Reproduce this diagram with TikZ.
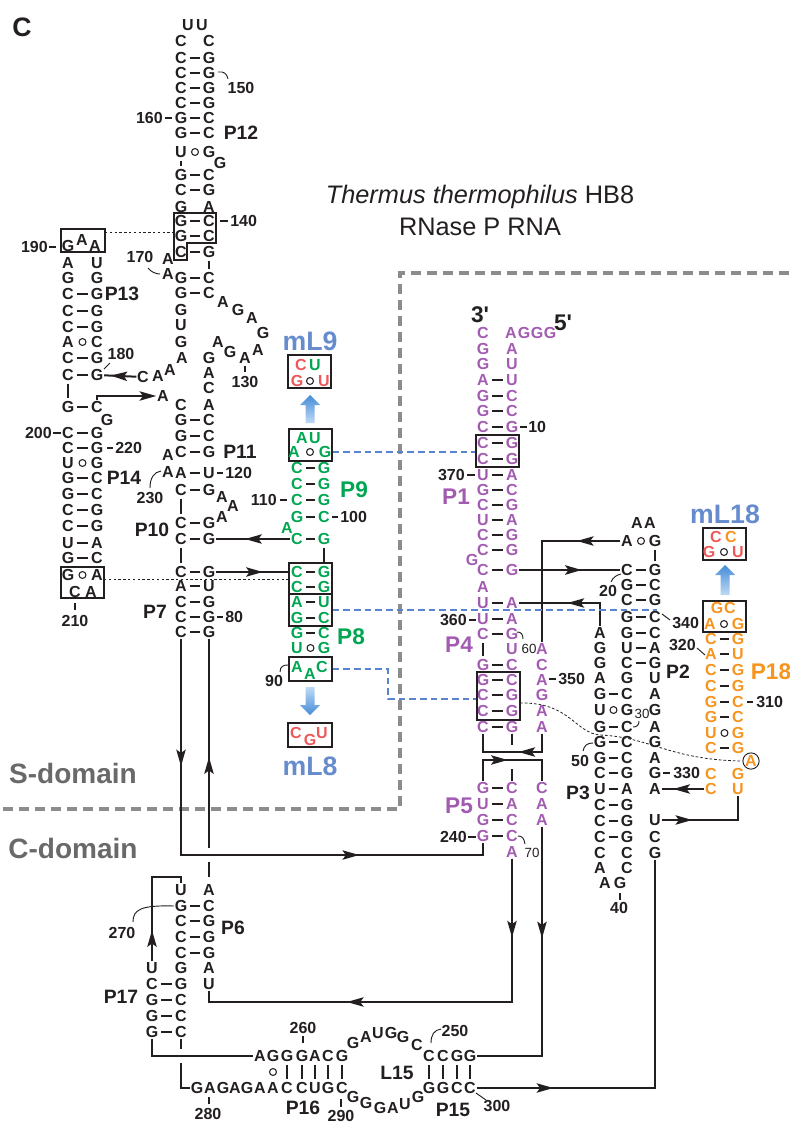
\documentclass[tikz,border=0pt]{standalone}
\usepackage{fontspec}
\setmainfont{Liberation Sans}
\usetikzlibrary{arrows.meta,decorations.markings,calc,fit}
\definecolor{pur}{RGB}{163,91,178}
\definecolor{grn}{RGB}{0,166,81}
\definecolor{org}{RGB}{247,148,30}
\definecolor{mred}{RGB}{238,88,88}
\definecolor{mblue}{RGB}{102,140,205}
\definecolor{dblue}{RGB}{91,132,207}
\definecolor{frm}{RGB}{140,140,140}
\definecolor{dom}{RGB}{105,105,105}
\definecolor{ink}{RGB}{35,31,32}
\definecolor{shA}{RGB}{70,140,215}
\definecolor{shB}{RGB}{190,218,244}
\tikzset{
 nt/.style={font=\fontsize{12}{12}\selectfont\bfseries, inner sep=0.5pt, text height=8.6pt, text depth=0pt},
 bond/.style={line width=2pt, shorten <=1.5pt, shorten >=1.5pt, draw=ink},
 wob/.style={circle, draw=ink, line width=0.8pt, minimum size=5.2pt, inner sep=0pt},
 conn/.style={line width=1.5pt, draw=ink},
 arr/.style={postaction={decorate}, decoration={markings, mark=at position #1 with {\arrow{Stealth[length=12.5pt,width=7pt,inset=2.5pt]}}}},
 endarr/.style={-{Stealth[length=12.5pt,width=7pt,inset=2.5pt]}},
 num/.style={font=\fontsize{12}{12}\selectfont\bfseries, text=ink, inner sep=0pt},
 snum/.style={font=\fontsize{10}{10}\selectfont, text=ink, inner sep=0pt},
 stem/.style={font=\fontsize{14.5}{15}\selectfont\bfseries, text=ink, inner sep=0pt},
 cstem/.style={font=\fontsize{17}{17}\selectfont\bfseries, inner sep=0pt},
 mlab/.style={font=\fontsize{20}{20}\selectfont\bfseries, text=mblue, inner sep=0pt},
 dlab/.style={font=\fontsize{21}{21}\selectfont\bfseries, text=dom, inner sep=0pt},
 box/.style={draw=ink, line width=1pt, inner sep=0pt},
 dotl/.style={draw=ink, line width=0.7pt, dash pattern=on 1.8pt off 1.8pt},
 bdash/.style={draw=dblue, line width=1.7pt, dash pattern=on 5pt off 3pt},
 gframe/.style={draw=frm, line width=2.4pt, dash pattern=on 7.5pt off 4.5pt},
 cdash/.style={draw=ink, line width=0.6pt, dash pattern=on 2pt off 1.5pt},
 tick/.style={draw=ink, line width=1.3pt},
 hook/.style={draw=ink, line width=0.7pt},
}
\newcommand{\nuc}[5][ink]{\node[nt,text=#1] (#2) at (#3,#4) {#5};}
\newcommand{\bpr}[7][ink]{\node[nt,text=#1] (#2a) at (#3,#5) {#6};\node[nt,text=#1] (#2b) at (#4,#5) {#7};\draw[bond] (#2a) -- (#2b);}
\newcommand{\wbl}[7][ink]{\node[nt,text=#1] (#2a) at (#3,#5) {#6};\node[nt,text=#1] (#2b) at (#4,#5) {#7};\node[wob] (#2o) at ($(#2a)!0.5!(#2b)$) {};}
\newcommand{\npr}[7][ink]{\node[nt,text=#1] (#2a) at (#3,#5) {#6};\node[nt,text=#1] (#2b) at (#4,#5) {#7};}
\newcommand{\lbl}[5][num]{\node[#1] (#2) at (#3,#4) {#5};}
\begin{document}
\begin{tikzpicture}[x=0.75pt,y=-0.75pt]
\useasboundingbox (0,0) rectangle (789,1124);
% ---------- frame, titles ----------
\coordinate (f1) at (789,273); \coordinate (f2) at (400,273); \coordinate (f3) at (400,809); \coordinate (f4) at (0,809);
\draw[gframe] (f1) -- (f2) -- (f3) -- (f4);
\node[font=\fontsize{20}{20}\selectfont\bfseries, text=ink] (panel) at (22,27) {C};
\node[font=\fontsize{19}{19}\selectfont, text=ink] (title1) at (480,197) {\textit{Thermus thermophilus} HB8};
\node[font=\fontsize{19}{19}\selectfont, text=ink] (title2) at (480,227) {RNase P RNA};
\node[dlab] (sdom) at (73,773) {S-domain};
\node[dlab] (cdom) at (73,848) {C-domain};
% ---------- P12 / P11 / P10 / P7 ----------
\nuc{pu1}{188}{25}{U}
\nuc{pu2}{202}{25}{U}
\npr{r41}{181}{209}{41}{C}{C}
\bpr{r58}{181}{209}{58}{C}{G}
\bpr{r73}{181}{209}{73}{C}{G}
\bpr{r88}{181}{209}{88}{C}{G}
\bpr{r103}{181}{209}{103}{C}{G}
\bpr{r118}{181}{209}{118}{G}{C}
\bpr{r133}{181}{209}{133}{G}{C}
\wbl{r152}{181}{209}{152}{U}{G}
\nuc{g163}{220}{163}{G}
\bpr{r175}{181}{209}{175}{G}{C}
\draw[bond] (r152a) -- (r175a);
\bpr{r190}{181}{209}{190}{C}{G}
\npr{r207}{181}{209}{207}{G}{A}
\bpr{r221}{181}{209}{221}{G}{C}
\bpr{r236}{181}{209}{236}{G}{C}
\bpr{r252}{181}{209}{252}{C}{G}
\nuc{a260}{168}{259}{A}
\nuc{a273}{168}{274}{A}
\bpr{r278}{181}{209}{278}{G}{C}
\draw[bond] (r252b) -- (r278b);
\bpr{r293}{181}{209}{293}{G}{C}
\draw[box] (174,213) -- (216,213) -- (216,243) -- (187,243) -- (187,260) -- (174,260) -- cycle;
\coordinate (b140w) at (174,232);
\nuc{r310}{181}{310}{G}
\nuc{r325}{181}{325}{U}
\nuc{r342}{181}{342}{G}
\nuc{r358}{182}{358}{A}
\nuc{la1}{170}{370}{A}
\nuc{la2}{158}{376}{A}
\nuc{lc1}{143}{377}{C}
\nuc{lp1}{223}{302}{A}
\nuc{lp2}{238}{310}{G}
\nuc{lp3}{252}{318}{A}
\nuc{lp4}{263}{333}{G}
\nuc{lp5}{258}{350}{A}
\nuc{lp6}{245}{358}{A}
\nuc{lp7}{230}{352}{G}
\nuc{lp8}{218}{342}{A}
\nuc{rr358}{209}{358}{G}
\nuc{rr373}{209}{373}{A}
\nuc{rr388}{209}{388}{C}
\nuc{rr405}{209}{405}{A}
\nuc{la397}{163}{396}{A}
\nuc{lc405}{181}{405}{C}
\bpr{r420}{181}{209}{420}{G}{C}
\bpr{r436}{181}{209}{436}{G}{C}
\bpr{r452}{181}{209}{452}{C}{G}
\nuc{a455}{168}{455}{A}
\nuc{a472}{168}{472}{A}
\bpr{r473}{181}{209}{473}{A}{U}
\bpr{r490}{181}{209}{490}{C}{G}
\nuc{b497}{222}{497}{A}
\nuc{b506}{233}{506}{A}
\nuc{b517}{222}{517}{A}
\bpr{r523}{181}{209}{523}{C}{G}
\draw[bond] (r490a) -- (r523a);
\bpr{r539}{181}{209}{539}{C}{G}
\bpr{r572}{181}{209}{572}{C}{G}
\draw[bond] (r539a) -- (r572a);
\bpr{r586}{181}{209}{586}{A}{U}
\bpr{r602}{181}{209}{602}{C}{G}
\bpr{r617}{181}{209}{617}{C}{G}
\bpr{r632}{181}{209}{632}{C}{G}
% ---------- P13 / P14 ----------
\nuc{q246a}{68}{246}{G}
\nuc{q240}{82}{240}{A}
\nuc{q246b}{95}{246}{A}
\node[box, fit={(61,229) (105,252)}] (bxGAA) {};
\npr{q263}{68}{97}{263}{A}{U}
\npr{q278}{68}{97}{278}{G}{G}
\bpr{q294}{68}{97}{294}{C}{G}
\bpr{q311}{68}{97}{311}{C}{G}
\bpr{q327}{68}{97}{327}{C}{G}
\wbl{q342}{68}{97}{342}{A}{C}
\bpr{q358}{68}{97}{358}{C}{G}
\bpr{q375}{68}{97}{375}{C}{G}
\bpr{q408}{68}{97}{407}{G}{C}
\draw[bond] (q375a) -- (q408a);
\nuc{q422}{107}{420}{G}
\bpr{q433}{68}{97}{433}{C}{G}
\bpr{q447}{68}{97}{448}{C}{G}
\wbl{q463}{68}{97}{463}{U}{G}
\bpr{q478}{68}{97}{478}{G}{C}
\bpr{q494}{68}{97}{494}{G}{C}
\bpr{q510}{68}{97}{510}{C}{G}
\bpr{q526}{68}{97}{526}{C}{G}
\bpr{q543}{68}{97}{543}{U}{A}
\bpr{q558}{68}{97}{558}{G}{C}
\wbl{q575}{68}{97}{575}{G}{A}
\nuc{q592a}{75}{592}{C}
\nuc{q592b}{91}{592}{A}
\node[box, fit={(61,567) (104,598)}] (bxGA) {};
\draw[conn, arr=0.8] (lc1) -- (q375b);
\coordinate (k2) at (97,396);
\draw[conn, endarr] (q408b.north) -- (k2) -- (la397.west);
% ---------- P9 / P8 (green) ----------
\node[mlab] (mL9) at (310,341) {mL9};
\node[box, fit={(288,355) (331,388)}] (bxm9) {};
\nuc[mred]{m9c}{301}{365}{C}
\nuc[grn]{m9u}{315}{365}{U}
\nuc[mred]{m9g}{297}{381}{G}
\node[wob] (m9o) at (310,381) {};
\nuc[mred]{m9u2}{324}{381}{U}
\shade[top color=shA, bottom color=shB] (305.5,423) -- (305.5,405) -- (300,405) -- (310,395) -- (320,405) -- (314.5,405) -- (314.5,423) -- cycle;
\node[box, fit={(289,429) (332,461)}] (bxp9) {};
\nuc[grn]{p9a1}{302}{438}{A}
\nuc[grn]{p9u1}{315}{438}{U}
\nuc[grn]{p9a2}{294}{452}{A}
\node[wob] (p9o) at (310,452) {};
\nuc[grn]{p9g2}{325}{452}{G}
\bpr[grn]{s468}{297}{324}{468}{C}{G}
\bpr[grn]{s484}{297}{324}{484}{C}{G}
\bpr[grn]{s500}{297}{324}{500}{C}{G}
\bpr[grn]{s517}{297}{324}{517}{G}{C}
\nuc[grn]{s528}{287}{528}{A}
\bpr[grn]{s539}{297}{324}{539}{C}{G}
\bpr[grn]{s572}{297}{324}{572}{C}{G}
\draw[bond] (s539b) -- (s572b);
\bpr[grn]{s587}{297}{324}{587}{C}{G}
\node[box, fit={(289,563) (332,594)}] (bx8a) {};
\bpr[grn]{s602}{297}{324}{602}{A}{U}
\bpr[grn]{s618}{297}{324}{618}{G}{C}
\node[box, fit={(289,594) (332,626)}] (bx8b) {};
\bpr[grn]{s633}{297}{324}{633}{G}{C}
\wbl[grn]{s648}{297}{324}{648}{U}{G}
\nuc[grn]{s667a}{297}{667}{A}
\nuc[grn]{s674}{310}{674}{A}
\nuc[grn]{s667b}{322}{667}{C}
\node[box, fit={(289,657) (332,681)}] (bx8c) {};
\shade[top color=shB, bottom color=shA] (305.5,687) -- (305.5,705) -- (300,705) -- (310,715) -- (320,705) -- (314.5,705) -- (314.5,687) -- cycle;
\node[box, fit={(288,723) (332,747)}] (bxm8) {};
\nuc[mred]{m8c}{296}{733}{C}
\nuc[mred]{m8g}{310}{740}{G}
\nuc[mred]{m8u}{322}{733}{U}
\node[mlab] (mL8) at (310,766) {mL8};
\draw[conn, arr=0.61] (s539a) -- (r539b);
\draw[conn, arr=0.63] (r572b) -- (s572a);
% ---------- P1 / P4 / P5 (purple) ----------
\node[font=\fontsize{17}{17}\selectfont\bfseries, text=ink] (p3p) at (480,315) {3\textquotesingle};
\node[font=\fontsize{17}{17}\selectfont\bfseries, text=ink] (p5p) at (563,323) {5\textquotesingle};
\nuc[pur]{t333}{483}{333}{C}
\nuc[pur]{f1a}{511}{333}{A}
\nuc[pur]{f1b}{524}{333}{G}
\nuc[pur]{f1c}{537}{333}{G}
\nuc[pur]{f1d}{550}{333}{G}
\npr[pur]{t349}{483}{512}{349}{G}{A}
\npr[pur]{t364}{483}{512}{364}{G}{U}
\bpr[pur]{t380}{483}{512}{380}{A}{U}
\bpr[pur]{t396}{483}{512}{396}{G}{C}
\bpr[pur]{t411}{483}{512}{411}{G}{C}
\bpr[pur]{t427}{483}{512}{427}{C}{G}
\bpr[pur]{t443}{483}{512}{443}{C}{G}
\bpr[pur]{t459}{483}{512}{459}{C}{G}
\node[box, fit={(476,435) (519,467)}] (bxP1) {};
\bpr[pur]{t475}{483}{512}{475}{U}{A}
\bpr[pur]{t490}{483}{512}{490}{G}{C}
\bpr[pur]{t505}{483}{512}{505}{C}{G}
\bpr[pur]{t520}{483}{512}{520}{U}{A}
\bpr[pur]{t535}{483}{512}{535}{C}{G}
\bpr[pur]{t550}{483}{512}{550}{C}{G}
\nuc[pur]{t560}{472}{560}{G}
\bpr[pur]{t570}{483}{512}{570}{C}{G}
\nuc[pur]{t587}{483}{587}{A}
\bpr[pur]{t603}{483}{512}{603}{U}{A}
\bpr[pur]{t620}{483}{512}{619}{U}{A}
\bpr[pur]{t633}{483}{512}{634}{C}{G}
\nuc[pur]{t648}{512}{649}{U}
\bpr[pur]{t665}{483}{512}{665}{G}{C}
\draw[bond] (t633a) -- (t665a);
\bpr[pur]{t679}{483}{512}{680}{G}{C}
\bpr[pur]{t695}{483}{512}{695}{C}{G}
\bpr[pur]{t712}{483}{512}{711}{C}{G}
\node[box, fit={(477,672) (520,720)}] (bxP4) {};
\bpr[pur]{t727}{483}{512}{727}{C}{G}
\nuc[pur]{u648}{542}{649}{A}
\nuc[pur]{u665}{542}{665}{C}
\nuc[pur]{u679}{542}{680}{A}
\nuc[pur]{u695}{542}{695}{G}
\nuc[pur]{u712}{542}{711}{A}
\nuc[pur]{u727}{542}{727}{A}
\bpr[pur]{t788}{483}{512}{788}{G}{C}
\bpr[pur]{t803}{483}{512}{804}{U}{A}
\bpr[pur]{t820}{483}{512}{820}{G}{C}
\bpr[pur]{t837}{483}{512}{836}{G}{C}
\nuc[pur]{u788}{542}{788}{C}
\nuc[pur]{u803}{542}{804}{A}
\nuc[pur]{u820}{542}{820}{A}
\nuc[pur]{t853}{512}{852}{A}
\coordinate (k19a) at (542,752); \coordinate (k19b) at (483,752);
\draw[conn] (u727.south) -- (k19a) -- (k19b) -- (t727a.south);
\draw[conn, arr=0.4] (k19a) -- (k19b);
\draw[conn] (t727b.south) -- ++(0,11);
\coordinate (k19c) at (483,760); \coordinate (k19d) at (542,760);
\draw[conn] (t788a.north) -- (k19c) -- (k19d) -- (u788.north);
\draw[conn, arr=0.42] (k19c) -- (k19d);
\draw[conn] (t788b.north) -- ++(0,-12);
% ---------- P2 / P3 ----------
\nuc{v523a}{637}{523}{A}
\nuc{v523b}{650}{523}{A}
\wbl{v541}{627}{655}{541}{A}{G}
\bpr{v570}{627}{655}{570}{C}{G}
\draw[bond] (v541b) -- (v570b);
\bpr{v585}{627}{655}{585}{G}{C}
\bpr{v600}{627}{655}{600}{C}{G}
\bpr{v617}{627}{655}{617}{G}{C}
\bpr{v633}{627}{655}{633}{G}{C}
\bpr{v648}{627}{655}{648}{U}{A}
\bpr{v663}{627}{655}{663}{C}{G}
\npr{v678}{627}{655}{678}{G}{U}
\nuc{w633}{600}{633}{A}
\nuc{w648}{600}{648}{G}
\nuc{w663}{600}{663}{G}
\nuc{w678}{600}{678}{A}
\bpr{w694}{600}{627}{694}{G}{C}
\wbl{w710}{600}{627}{710}{U}{G}
\bpr{w727}{600}{627}{727}{G}{C}
\bpr{w742}{600}{627}{742}{G}{C}
\bpr{w758}{600}{627}{758}{G}{C}
\bpr{w773}{600}{627}{773}{C}{G}
\bpr{w789}{600}{627}{789}{U}{A}
\bpr{w805}{600}{627}{805}{C}{G}
\bpr{w821}{600}{627}{821}{C}{G}
\bpr{w837}{600}{627}{837}{C}{G}
\npr{w853}{600}{627}{853}{C}{C}
\npr{w868}{600}{627}{868}{A}{C}
\nuc{w883a}{605}{883}{A}
\nuc{w883b}{620}{883}{G}
\nuc{z694}{655}{694}{A}
\nuc{z710}{655}{710}{G}
\nuc{z727}{655}{727}{A}
\nuc{z742}{655}{742}{G}
\nuc{z758}{655}{758}{A}
\nuc{z773}{655}{773}{G}
\nuc{w789c}{655}{789}{A}
\nuc{z820}{655}{820}{U}
\nuc{z837}{655}{837}{C}
\nuc{z853}{655}{853}{G}
% ---------- P18 (orange) ----------
\node[mlab] (mL18) at (725,514) {mL18};
\node[box, fit={(703,528) (746,560)}] (bxm18) {};
\nuc[mred]{m18c1}{716}{537}{C}
\nuc[org]{m18c2}{731}{537}{C}
\nuc[mred]{m18g}{709}{552}{G}
\node[wob] (m18o) at (724,552) {};
\nuc[mred]{m18u}{738}{552}{U}
\shade[top color=shA, bottom color=shB] (720.5,595) -- (720.5,575) -- (715,575) -- (725,565) -- (735,575) -- (729.5,575) -- (729.5,595) -- cycle;
\node[box, fit={(703,601) (746,632)}] (bxP18) {};
\nuc[org]{o608a}{717}{608}{G}
\nuc[org]{o608b}{730}{608}{C}
\nuc[org]{o624a}{710}{624}{A}
\node[wob] (o624o) at (724,624) {};
\nuc[org]{o624b}{738}{624}{G}
\bpr[org]{o639}{711}{738}{639}{C}{G}
\bpr[org]{o653}{711}{738}{654}{A}{U}
\bpr[org]{o670}{711}{738}{670}{C}{G}
\bpr[org]{o687}{711}{738}{686}{C}{G}
\bpr[org]{o702}{711}{738}{702}{G}{C}
\bpr[org]{o717}{711}{738}{717}{G}{C}
\wbl[org]{o733}{711}{738}{733}{U}{G}
\bpr[org]{o748}{711}{738}{748}{C}{G}
\node[nt, text=org, circle, draw=ink, line width=0.7pt, minimum size=12pt, inner sep=0pt] (oA) at (751,761) {A};
\npr[org]{o773}{711}{738}{774}{C}{G}
\npr[org]{o789}{711}{738}{789}{C}{U}
% ---------- P6 / P17 ----------
\npr{x890}{181}{209}{890}{U}{A}
\bpr{x906}{181}{209}{906}{G}{C}
\bpr{x921}{181}{209}{921}{C}{G}
\bpr{x937}{181}{209}{937}{C}{G}
\bpr{x953}{181}{209}{953}{C}{G}
\npr{x968}{181}{209}{968}{G}{A}
\nuc{x968u}{152}{968}{U}
\bpr{y984}{152}{181}{984}{C}{G}
\nuc{x984}{209}{984}{U}
\bpr{y1001}{152}{181}{1000}{G}{C}
\bpr{y1016}{152}{181}{1016}{G}{C}
\bpr{y1032}{152}{181}{1032}{G}{C}
% ---------- P16 / L15 / P15 ----------
\nuc{bt260}{260}{1056}{A}
\nuc{bt273}{273}{1056}{G}
\nuc{bt287}{287}{1056}{G}
\nuc{bt302}{302}{1056}{G}
\nuc{bt315}{315}{1056}{A}
\nuc{bt328}{328}{1056}{C}
\nuc{bt342}{342}{1056}{G}
\nuc{bt353}{353}{1043}{G}
\nuc{bt366}{366}{1037}{A}
\nuc{bt378}{378}{1033}{U}
\nuc{bt391}{391}{1033}{G}
\nuc{bt403}{403}{1037}{G}
\nuc{bt417}{417}{1045}{C}
\nuc{bt429}{429}{1056}{C}
\nuc{bt443}{443}{1056}{C}
\nuc{bt457}{457}{1056}{G}
\nuc{bt470}{470}{1056}{G}
\nuc{bb197}{197}{1088}{G}
\nuc{bb210}{210}{1088}{A}
\nuc{bb223}{223}{1088}{G}
\nuc{bb235}{235}{1088}{A}
\nuc{bb247}{247}{1088}{G}
\nuc{bb260}{260}{1088}{A}
\nuc{bb273}{273}{1088}{A}
\nuc{bb287}{287}{1088}{C}
\nuc{bb302}{302}{1088}{C}
\nuc{bb315}{315}{1088}{U}
\nuc{bb328}{328}{1088}{G}
\nuc{bb342}{342}{1088}{C}
\nuc{bb353}{353}{1097}{G}
\nuc{bb366}{366}{1103}{G}
\nuc{bb380}{380}{1108}{G}
\nuc{bb393}{393}{1108}{A}
\nuc{bb405}{405}{1104}{U}
\nuc{bb418}{418}{1097}{G}
\nuc{bb429}{429}{1088}{G}
\nuc{bb443}{443}{1088}{G}
\nuc{bb457}{457}{1088}{C}
\nuc{bb470}{470}{1088}{C}
\foreach \x in {287,302,315,328,342,429,443,457,470} {\draw[bond] (bt\x) -- (bb\x);}
\node[wob] (w273) at ($(bt273)!0.5!(bb273)$) {};
% ---------- long connectors ----------
\coordinate (k5a) at (181,855); \coordinate (k5b) at (483,855);
\draw[conn] (r632a.south) -- (k5a) -- (k5b) -- (t837a.south);
\draw[conn, arr=0.59] (r632a.south) -- (k5a);
\draw[conn, arr=0.59] (k5a) -- (k5b);
\coordinate (k6a) at (209,848);
\draw[conn, arr=0.434] (k6a) -- (r632b.south);
\coordinate (k6b) at (209,862);
\draw[conn, shorten >=5pt] (k6b) -- (x890b.north);
\coordinate (k7a) at (152,877); \coordinate (k7b) at (181,877);
\draw[conn] (x968u.north) -- (k7a) -- (k7b) -- (x890a.north);
\draw[conn, arr=0.37] (x968u.north) -- (k7a);
\coordinate (k8) at (152,1056);
\draw[conn] (y1032a.south) -- (k8) -- (bt260.west);
\coordinate (k9a) at (181,1049);
\draw[conn] (y1032b.south) -- (k9a);
\coordinate (k9b) at (181,1063); \coordinate (k9c) at (181,1088);
\draw[conn] (k9b) -- (k9c) -- (bb197.west);
\coordinate (k10a) at (512,1002); \coordinate (k10b) at (209,1002);
\draw[conn] (t853.south) -- (k10a) -- (k10b) -- (x984.south);
\draw[conn, arr=0.55] (t853.south) -- (k10a);
\draw[conn, arr=0.545] (k10a) -- (k10b);
\coordinate (k11) at (542,1056);
\draw[conn] (u820.south) -- (k11) -- (bt470.east);
\draw[conn, arr=0.487] (u820.south) -- (k11);
\coordinate (k12) at (655,1088);
\draw[conn] (bb470.east) -- (k12) -- (z853.south);
\draw[conn, arr=0.43] (bb470.east) -- (k12);
\coordinate (k13) at (542,541);
\draw[conn] (v541a.west) -- (k13) -- (u648.north);
\draw[conn, arr=0.555] (v541a.west) -- (k13);
\draw[conn, line width=2.2pt, arr=0.62] (t570b) -- (v570a);
\coordinate (k15) at (600,603);
\draw[conn] (w633.north) -- (k15) -- (t603b.east);
\draw[conn, arr=0.4] (k15) -- (t603b.east);
\coordinate (k16) at (738,820);
\draw[conn] (z820.east) -- (k16) -- (o789b.south);
\draw[conn, arr=0.4] (z820.east) -- (k16);
\draw[conn, arr=0.73] (o789a.west) -- (w789c.east);
% ---------- dotted / dashed links ----------
\coordinate (d2) at (105,232);
\draw[dotl] (d2) -- (b140w);
\coordinate (d1) at (104,579);
\draw[dotl] (d1) -- (d1 -| bx8a.west);
\draw[bdash] (bxp9.east |- p9g2) -- (bxP1.west |- p9g2);
\coordinate (e2) at (657,610);
\draw[bdash] (bx8b.east |- e2) -- (e2);
\coordinate (e3a) at (388,669); \coordinate (e3b) at (388,699);
\draw[bdash] (bx8c.east |- e3a) -- (e3a) -- (e3b) -- (e3b -| bxP4.west);
\coordinate (c1) at (520,703);
\draw[cdash] (c1) .. controls (570,702) and (575,733) .. (600,735) .. controls (650,737) and (670,760) .. (oA.west);
% ---------- stem labels ----------
\lbl[stem]{sP12}{241}{133}{P12}
\lbl[stem]{sP13}{122}{294}{P13}
\lbl[stem]{sP11}{240}{452}{P11}
\lbl[stem]{sP14}{124}{478}{P14}
\lbl[stem]{sP10}{152}{530}{P10}
\lbl[stem]{sP7}{155}{612}{P7}
\lbl[stem]{sP6}{233}{928}{P6}
\lbl[stem]{sP17}{121}{997}{P17}
\lbl[stem]{sP16}{303}{1108}{P16}
\lbl[stem]{sP15}{453}{1110}{P15}
\lbl[stem]{sL15}{397}{1073}{L15}
\lbl[stem]{sP3}{578}{793}{P3}
\lbl[stem]{sP2}{678}{672}{P2}
\lbl[cstem,text=grn]{sP9}{354}{490}{P9}
\lbl[cstem,text=grn]{sP8}{351}{637}{P8}
\lbl[cstem,text=pur]{sP1}{456}{497}{P1}
\lbl[cstem,text=pur]{sP4}{459}{645}{P4}
\lbl[cstem,text=pur]{sP5}{459}{806}{P5}
\lbl[cstem,text=org]{sP18}{771}{672}{P18}
% ---------- numbers ----------
\lbl{l150}{241}{88}{150}
\lbl[num,anchor=east]{l160}{163}{118}{160}
\lbl[num,anchor=west]{l140}{230}{221}{140}
\lbl[num,anchor=east]{l190}{48}{247}{190}
\lbl{l170}{140}{257}{170}
\lbl{l180}{121}{354}{180}
\lbl{l130}{245}{382}{130}
\lbl[num,anchor=east]{l200}{52}{433}{200}
\lbl[num,anchor=west]{l220}{115}{448}{220}
\lbl{l210}{75}{621}{210}
\lbl[num,anchor=west]{l120}{225}{473}{120}
\lbl{l230}{150}{498}{230}
\lbl[num,anchor=east]{l110}{277}{500}{110}
\lbl[num,anchor=west]{l100}{340}{517}{100}
\lbl[num,anchor=west]{l80}{225}{617}{80}
\lbl{l90}{274}{681}{90}
\lbl[num,anchor=west]{l10}{528}{427}{10}
\lbl[num,anchor=east]{l370}{465}{475}{370}
\lbl[num,anchor=east]{l360}{467}{620}{360}
\lbl[num,anchor=west]{l350}{558}{679}{350}
\lbl[num,anchor=east]{l240}{467}{837}{240}
\lbl[snum]{l60}{529}{649}{60}
\lbl[snum]{l70}{532}{853}{70}
\lbl[snum]{l30}{642}{714}{30}
\lbl{l50}{580}{761}{50}
\lbl{l20}{608}{591}{20}
\lbl[num,anchor=west]{l340}{672}{623}{340}
\lbl[num,anchor=east]{l320}{696}{645}{320}
\lbl[num,anchor=west]{l310}{756}{702}{310}
\lbl[num,anchor=west]{l330}{673}{773}{330}
\lbl{l40}{619}{908}{40}
\lbl{l270}{122}{933}{270}
\lbl{l260}{303}{1028}{260}
\lbl{l250}{455}{1031}{250}
\lbl{l280}{208}{1114}{280}
\lbl{l290}{341}{1116}{290}
\lbl{l300}{497}{1106}{300}
% ticks
\draw[tick] (165,118) -- (172,118);
\draw[tick] (220,221) -- (228,221);
\draw[tick] (49,247) -- (56,247);
\draw[tick] (53,433) -- (61,433);
\draw[tick] (107,448) -- (113,448);
\draw[tick] (75,603) -- (75,610);
\draw[tick] (245,366) -- (245,372);
\draw[tick] (217,473) -- (223,473);
\draw[tick] (280,500) -- (287,500);
\draw[tick] (332,517) -- (338,517);
\draw[tick] (217,617) -- (223,617);
\draw[tick] (520,427) -- (527,427);
\draw[tick] (467,475) -- (475,475);
\draw[tick] (469,620) -- (476,620);
\draw[tick] (549,679) -- (556,679);
\draw[tick] (468,837) -- (476,837);
\draw[tick] (663,773) -- (670,773);
\draw[tick] (747,702) -- (753,702);
\draw[tick] (620,893) -- (620,900);
\draw[tick] (303,1036) -- (303,1043);
\draw[tick] (209,1097) -- (209,1104);
\draw[tick] (341,1099) -- (341,1107);
% hooks
\draw[hook] (218,72) .. controls (224,71) and (227,74) .. (228,79);
\draw[hook] (148,268) .. controls (151,272) and (156,274) .. (160,274);
\draw[hook] (150,488) .. controls (150,478) and (154,472) .. (161,471);
\draw[hook] (104,369) -- (110,363);
\draw[hook] (280,672) .. controls (280,666) and (284,665) .. (288,665);
\draw[hook] (611,582) .. controls (613,577) and (617,575) .. (621,574);
\draw[hook] (662,614) -- (670,620);
\draw[hook] (697,648) -- (705,655);
\draw[hook] (633,727) .. controls (637,727) and (639,725) .. (639,721);
\draw[hook] (583,751) .. controls (584,745) and (588,743) .. (593,743);
\draw[hook] (517,632) .. controls (521,632) and (523,634) .. (523,639);
\draw[hook] (518,836) .. controls (522,836) and (524,838) .. (525,844);
\draw[hook] (431,1043) .. controls (431,1035) and (434,1030) .. (441,1029);
\draw[hook] (476,1093) -- (486,1100);
\draw[hook] (133,922) .. controls (133,910) and (140,905) .. (174,906);
\end{tikzpicture}
\end{document}
